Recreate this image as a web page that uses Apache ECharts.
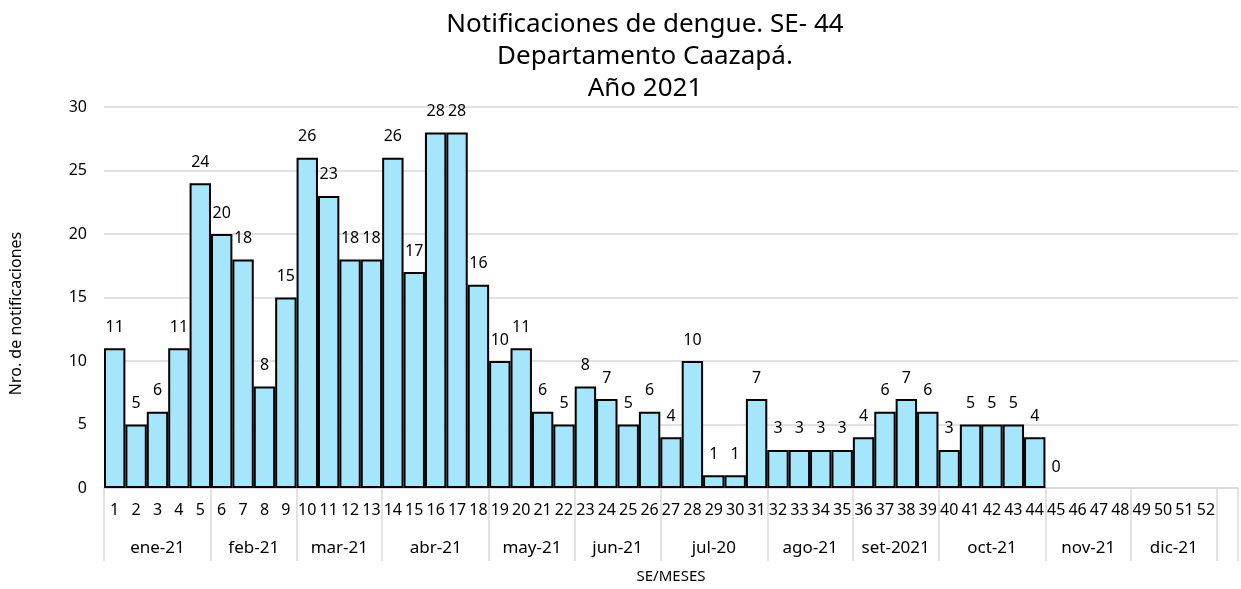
<!DOCTYPE html>
<html>
<head>
<meta charset="utf-8">
<script src="https://cdn.jsdelivr.net/npm/echarts@6/dist/echarts.min.js"></script>
<style>
  html, body { margin: 0; padding: 0; background: #fff; }
  #chart { width: 1241px; height: 589px; }
</style>
</head>
<body>
<div id="chart"></div>
<script>
// semanas epidemiologicas (la ultima casilla va vacia, como en la planilla)
const semanas = ['1','2','3','4','5','6','7','8','9','10','11','12','13','14','15','16','17','18',
  '19','20','21','22','23','24','25','26','27','28','29','30','31','32','33','34','35','36',
  '37','38','39','40','41','42','43','44','45','46','47','48','49','50','51','52',''];
// notificaciones por semana, 46 en adelante sin dato
const notificaciones = [11,5,6,11,24,20,18,8,15,26,23,18,18,26,17,28,28,16,10,11,6,5,8,7,5,6,
  4,10,1,1,7,3,3,3,3,4,6,7,6,3,5,5,5,4,0,null,null,null,null,null,null,null,null];
// meses y cuantas semanas abarca cada uno
const meses = ['ene-21','feb-21','mar-21','abr-21','may-21','jun-21','jul-20','ago-21','set-2021','oct-21','nov-21','dic-21',''];
const semanasPorMes = [5,4,4,5,4,4,5,4,4,5,4,4,1];
const yTicks = [0, 5, 10, 15, 20, 25, 30];

const FONT = 'Noto Sans';

// eje de meses: un punto por cada media semana, etiqueta en el centro del mes
const medios = new Array(semanas.length * 2 + 1).fill('');
const cortes = [0];
let acum = 0;
semanasPorMes.forEach((n, i) => {
  medios[acum * 2 + n] = meses[i];
  acum += n;
  cortes.push(acum * 2);
});

const chart = echarts.init(document.getElementById('chart'));
const option = {
  animation: false,
  title: {
    text: 'Notificaciones de dengue. SE- 44\nDepartamento Caazapá.\nAño 2021',
    left: 640,
    top: 4,
    textAlign: 'center',
    textStyle: { fontFamily: FONT, fontSize: 26, fontWeight: 'normal', color: '#000', lineHeight: 32 }
  },
  grid: { left: 102, right: 2, top: 107, bottom: 100 },
  xAxis: [
    {
      type: 'category',
      data: semanas,
      axisLine: { lineStyle: { color: '#d9d9d9', width: 1.5 } },
      axisTick: { show: false },
      axisLabel: { interval: 0, margin: 14, fontFamily: FONT, fontSize: 16, color: '#000' }
    },
    {
      type: 'category',
      data: medios,
      boundaryGap: false,
      position: 'bottom',
      axisLine: { show: false },
      axisTick: {
        show: true,
        length: 73,
        interval: (idx) => cortes.indexOf(idx) >= 0,
        lineStyle: { color: '#d9d9d9', width: 1.5 }
      },
      axisLabel: { interval: 0, margin: 52, fontFamily: FONT, fontSize: 17, color: '#000' },
      name: 'SE/MESES',
      nameLocation: 'middle',
      nameGap: 81,
      nameTextStyle: { fontFamily: FONT, fontSize: 15, color: '#000' }
    }
  ],
  yAxis: {
    type: 'value',
    min: yTicks[0],
    max: yTicks[yTicks.length - 1],
    interval: 5,
    axisLine: { show: false },
    axisTick: { show: false },
    splitLine: { lineStyle: { color: '#d9d9d9', width: 1.5 } },
    axisLabel: { margin: 17, fontFamily: FONT, fontSize: 16, color: '#000' },
    name: 'Nro. de notificaciones',
    nameLocation: 'middle',
    nameGap: 80,
    nameTextStyle: { fontFamily: FONT, fontSize: 16, color: '#000', padding: [0, 32, 0, 0] }
  },
  series: [
    {
      type: 'bar',
      xAxisIndex: 0,
      barCategoryGap: 0,
      data: notificaciones.map(v => v === 0 ? { value: v, itemStyle: { borderWidth: 0 } } : v),
      itemStyle: { color: '#a6e6fc', borderColor: '#000', borderWidth: 2 },
      label: {
        show: true,
        position: 'top',
        distance: 13,
        fontFamily: FONT,
        fontSize: 16,
        color: '#000'
      }
    }
  ]
};
chart.setOption(option);
</script>
</body>
</html>
